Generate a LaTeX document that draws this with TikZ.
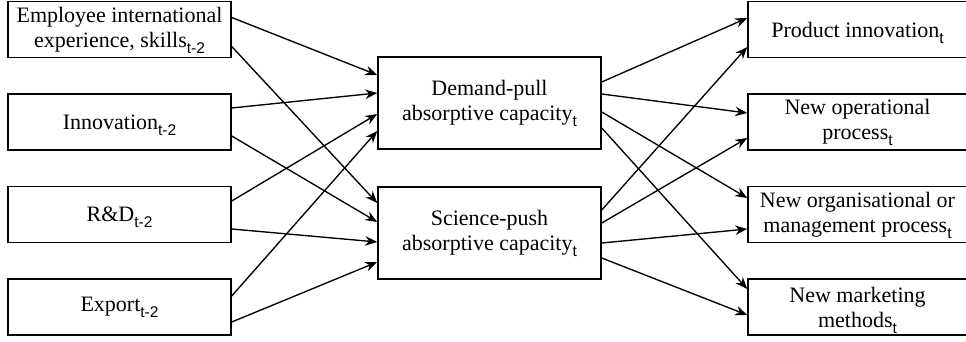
\documentclass[tikz,border=0pt]{standalone}
\usepackage{fontspec}
\setmainfont{Liberation Serif}
\newfontfamily\subsans{Liberation Sans}
\usetikzlibrary{arrows.meta}
% subscripts are set in a sans face, lowered, without adding to the line's depth
\newcommand\subs[1]{\raisebox{-6pt}[0pt][0pt]{\fontsize{15.5}{15.5}\selectfont\subsans #1}}
\begin{document}
\begin{tikzpicture}[x=1pt,y=-1pt,
  box/.style={draw, line width=1.5pt, align=center, inner sep=0pt,
    font=\fontsize{22}{25}\selectfont},
  lbox/.style={box, minimum width=223pt, minimum height=56pt},
  mbox/.style={box, minimum width=223pt, minimum height=92pt},
  rbox/.style={box, minimum width=219pt, minimum height=56pt},
  link/.style={line width=1.35pt, -{Stealth[length=12pt,width=9.5pt]}}]
\useasboundingbox (0,0) rectangle (966,342);

% inputs (t-2)
\node[lbox] (emp) at (119.5,29.5) {Employee international\\experience, skills\subs{t-2}};
\node[lbox] (inn) at (119.5,122) {Innovation\subs{t-2}};
\node[lbox] (rd)  at (119.5,214.5) {R\&D\subs{t-2}};
\node[lbox] (exp) at (119.5,307) {Export\subs{t-2}};

% absorptive capacity
\node[mbox] (dem) at (489.5,103) {Demand-pull\\absorptive capacity\subs{t}};
\node[mbox] (sci) at (489.5,233) {Science-push\\absorptive capacity\subs{t}};

% innovation outcomes
\node[rbox] (prod) at (857.5,29.5) {Product innovation\subs{t}};
\node[rbox] (op)   at (857.5,122) {New operational\\process\subs{t}};
\node[rbox] (org)  at (857.5,214.5) {New organisational or\\management process\subs{t}};
\node[rbox] (mkt)  at (857.5,307) {New marketing\\methods\subs{t}};

% inputs to absorptive capacity
\draw[link] ([yshift=12pt]emp.east)   -- ([yshift=28pt]dem.west);
\draw[link] ([yshift=-17pt]emp.east)  -- ([yshift=30pt]sci.west);
\draw[link] ([yshift=14pt]inn.east)   -- ([yshift=10pt]dem.west);
\draw[link] ([yshift=-14pt]inn.east)  -- ([yshift=11pt]sci.west);
\draw[link] ([yshift=13.5pt]rd.east)  -- ([yshift=-11pt]dem.west);
\draw[link] ([yshift=-14.5pt]rd.east) -- ([yshift=-9pt]sci.west);
\draw[link] ([yshift=11pt]exp.east)   -- ([yshift=-28pt]dem.west);
\draw[link] ([yshift=-15pt]exp.east)  -- ([yshift=-29pt]sci.west);

% absorptive capacity to outcomes
\draw[link] ([yshift=21pt]dem.east)  -- ([yshift=11.5pt]prod.west);
\draw[link] ([yshift=9pt]dem.east)   -- ([yshift=9pt]op.west);
\draw[link] ([yshift=-9pt]dem.east)  -- ([yshift=16.5pt]org.west);
\draw[link] ([yshift=-25pt]dem.east) -- ([yshift=18pt]mkt.west);
\draw[link] ([yshift=23pt]sci.east)  -- ([yshift=-17.5pt]prod.west);
\draw[link] ([yshift=10pt]sci.east)  -- ([yshift=-16pt]op.west);
\draw[link] ([yshift=-10pt]sci.east) -- ([yshift=-14.5pt]org.west);
\draw[link] ([yshift=-25pt]sci.east) -- ([yshift=-8pt]mkt.west);
\end{tikzpicture}
\end{document}
